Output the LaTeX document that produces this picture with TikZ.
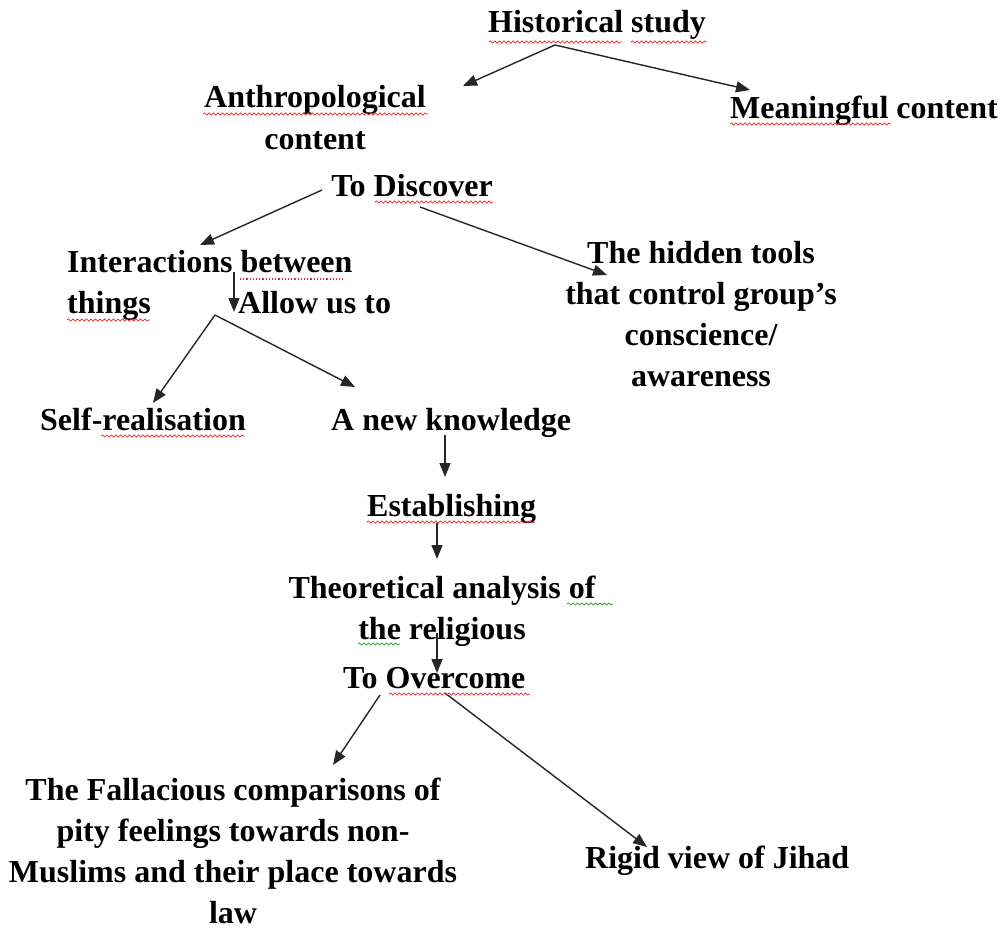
\documentclass[tikz,border=0pt]{standalone}
\usepackage{fontspec}
\setmainfont{Liberation Serif}
\usetikzlibrary{arrows.meta,decorations.pathmorphing}
\definecolor{spellred}{RGB}{240,40,40}
\definecolor{spellgreen}{RGB}{40,160,40}
\begin{document}
\begin{tikzpicture}[x=1pt,y=-1pt,
  lbl/.style={font=\fontsize{32}{41}\selectfont\bfseries, inner sep=0pt, anchor=base},
  lblw/.style={lbl, anchor=base west},
  arr/.style={line width=1.4pt, -{Triangle[length=14pt,width=11pt]}, black!85},
  spell/.style={decorate, decoration={snake, amplitude=1.1pt, segment length=4.5pt}, line width=0.7pt, draw=spellred},
  spellg/.style={spell, draw=spellgreen}]
\useasboundingbox (0,0) rectangle (1008,931);
\fill[white] (0,0) rectangle (1008,931);

% nodes (base = baseline of the last line)
\node[lbl] (hist) at (597,33) {Historical study};
\node[lbl, align=center] (anth) at (315,149) {Anthropological\\content};
\node[lbl] (mean) at (864,118) {Meaningful content};
\node[lbl] (disc) at (412,196) {To Discover};
\node[lblw, align=left] (inter) at (67,313) {Interactions between\\things};
\node[lblw] (allow) at (238,313) {Allow us to};
\node[lbl, align=center] (hidden) at (701,386) {The hidden tools\\that control group’s\\conscience/\\awareness};
\node[lblw] (self) at (40,430) {Self-realisation};
\node[lblw] (newk) at (331,430) {A new knowledge};
\node[lblw] (estab) at (367,516) {Establishing};
\node[lbl, align=center] (theo) at (442,639) {Theoretical analysis of\\the religious};
\node[lblw] (over) at (343,688) {To Overcome};
\node[lbl, align=center] (fall) at (233,923) {The Fallacious comparisons of\\pity feelings towards non-\\Muslims and their place towards\\law};
\node[lblw] (rigid) at (585,868) {Rigid view of Jihad};

% connectors
\draw[arr] ([shift={(-42,12)}]hist.base) -- ([shift={(148,-63)}]anth.base);
\draw[arr] ([shift={(-42,12)}]hist.base) -- ([shift={(-114,-28)}]mean.base);
\draw[arr] ([shift={(-90,-6)}]disc.base) -- ([shift={(133,-68)}]inter.base west);
\draw[arr] ([shift={(8,11)}]disc.base) -- ([shift={(-94,-111)}]hidden.base);
\draw[arr] ([shift={(167,-41)}]inter.base west) -- ([shift={(-4,-1)}]allow.base west);
\draw[arr] ([shift={(-23,2)}]allow.base west) -- ([shift={(113,-27)}]self.base west);
\draw[arr] ([shift={(-23,2)}]allow.base west) -- ([shift={(24,-43)}]newk.base west);
\draw[arr] ([shift={(114,5)}]newk.base west) -- ([shift={(78,-39)}]estab.base west);
\draw[arr] ([shift={(70,7)}]estab.base west) -- ([shift={(-5,-80)}]theo.base);
\draw[arr] ([shift={(-5,-6)}]theo.base) -- ([shift={(94,-15)}]over.base west);
\draw[arr] ([shift={(37,7)}]over.base west) -- ([shift={(100,-158)}]fall.base);
\draw[arr] ([shift={(102,5)}]over.base west) -- ([shift={(62,-21)}]rigid.base west);

% spell-check underlines
\draw[spell] (489,42) -- (622,42);
\draw[spell] (631,42) -- (707,42);
\draw[spell] (203,114) -- (428,114);
\draw[spell] (730,124) -- (891,124);
\draw[spell] (375,202) -- (493,202);
\draw[spellred, dotted, line width=1.2pt] (240,279) -- (343,279);
\draw[spell] (67,320) -- (150,320);
\draw[spell] (101,436) -- (244,436);
\draw[spell] (367,522) -- (535,522);
\draw[spellg] (567,604) -- (613,604);
\draw[spellg] (358,644) -- (400,644);
\draw[spell] (389,694) -- (530,694);
\end{tikzpicture}
\end{document}
